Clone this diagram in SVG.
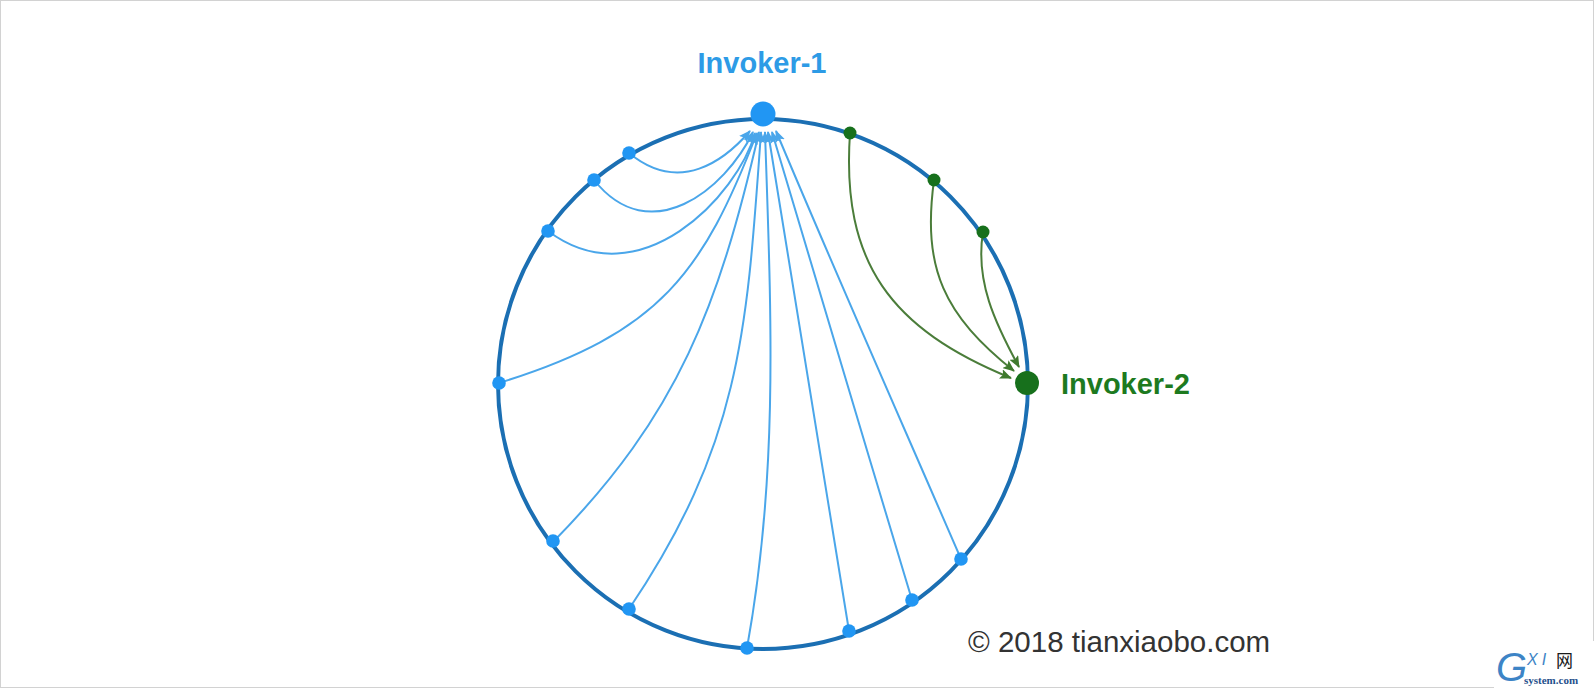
<svg xmlns="http://www.w3.org/2000/svg" width="1594" height="688" viewBox="0 0 1594 688">
  <style>
    .ring { fill: none; stroke: #1b6fb3; stroke-width: 4; }
    .blink { fill: none; stroke: #4aa6ea; stroke-width: 2; marker-end: url(#arrowBlue); }
    .glink { fill: none; stroke: #4b7d3a; stroke-width: 2; marker-end: url(#arrowGreen); }
    .bnode { fill: #2196f3; }
    .gnode { fill: #17701c; }
    .label { font-family: "Liberation Sans", Arial, sans-serif; font-weight: bold; font-size: 29px; }
  </style>
  <defs>
    <marker id="arrowBlue" markerUnits="userSpaceOnUse" markerWidth="12" markerHeight="10" viewBox="0 0 12 10" refX="11" refY="5" orient="auto">
      <path d="M0,0 L12,5 L0,10 L2.5,5 z" fill="#4aa6ea"/>
    </marker>
    <marker id="arrowGreen" markerUnits="userSpaceOnUse" markerWidth="12" markerHeight="10" viewBox="0 0 12 10" refX="11" refY="5" orient="auto">
      <path d="M0,0 L12,5 L0,10 L2.5,5 z" fill="#3f7a2e"/>
    </marker>
  </defs>
  <rect x="0" y="0" width="1594" height="688" fill="#ffffff"/>
  <rect x="0.5" y="0.5" width="1593" height="687" fill="none" stroke="#d2d2d2" stroke-width="1"/>

  <g id="ring">
    <circle class="ring" cx="763" cy="384" r="265"/>
  </g>

  <g id="connectors">
    <path class="blink" d="M629,153 C680,195 725,160 750,131"/>
    <path class="blink" d="M594,180 C650,250 725,190 753,132"/>
    <path class="blink" d="M548,231 C640,300 738,195 755,133"/>
    <path class="blink" d="M499,383 C661,333 703,272 757,133"/>
    <path class="blink" d="M553,542 C679,414 719,305 759,132"/>
    <path class="blink" d="M629,609 C741,443 747,331 761,132"/>
    <path class="blink" d="M747,648 C779,471 771,311 765,132"/>
    <path class="blink" d="M849,631 C822,464 795,298 768,132"/>
    <path class="blink" d="M912,600 C865,444 818,287 772,132"/>
    <path class="blink" d="M961,559 C899,416 836,274 776,131"/>
    <path class="glink" d="M850,133 C841,263 891,329 1011,378"/>
    <path class="glink" d="M934,180 C922,269 944,315 1014,371"/>
    <path class="glink" d="M983,232 C975,281 995,323 1019,367"/>
  </g>

  <g id="invoker-1">
    <circle class="bnode" cx="763" cy="114" r="12.5"/>
    <text class="label" x="762" y="73" text-anchor="middle" fill="#2d9be6">Invoker-1</text>
  </g>
  <g id="invoker-2">
    <circle class="gnode" cx="1027" cy="383" r="12"/>
    <text class="label" x="1061" y="394" fill="#1d7a1f">Invoker-2</text>
  </g>

  <g id="provider-b1"><circle class="bnode" cx="629" cy="153" r="6.8"/></g>
  <g id="provider-b2"><circle class="bnode" cx="594" cy="180" r="6.8"/></g>
  <g id="provider-b3"><circle class="bnode" cx="548" cy="231" r="6.8"/></g>
  <g id="provider-b4"><circle class="bnode" cx="499" cy="383" r="6.8"/></g>
  <g id="provider-b5"><circle class="bnode" cx="553" cy="541" r="6.8"/></g>
  <g id="provider-b6"><circle class="bnode" cx="629" cy="609" r="6.8"/></g>
  <g id="provider-b7"><circle class="bnode" cx="747" cy="648" r="6.8"/></g>
  <g id="provider-b8"><circle class="bnode" cx="849" cy="631" r="6.8"/></g>
  <g id="provider-b9"><circle class="bnode" cx="912" cy="600" r="6.8"/></g>
  <g id="provider-b10"><circle class="bnode" cx="961" cy="559" r="6.8"/></g>

  <g id="provider-g1"><circle class="gnode" cx="850" cy="133" r="6.5"/></g>
  <g id="provider-g2"><circle class="gnode" cx="934" cy="180" r="6.5"/></g>
  <g id="provider-g3"><circle class="gnode" cx="983" cy="232" r="6.5"/></g>

  <g id="copyright">
    <text x="968" y="652" font-family="'Liberation Sans', Arial, sans-serif" font-size="29.5" fill="#333333">© 2018 tianxiaobo.com</text>
  </g>

  <g id="watermark">
    <rect x="1494" y="641" width="100" height="47" fill="#ffffff"/>
    <text x="1496" y="681" font-family="'Liberation Sans', Arial, sans-serif" font-style="italic" font-size="40" fill="#3d84c6">G</text>
    <text x="1527" y="665" font-family="'Liberation Sans', Arial, sans-serif" font-style="italic" font-size="16" letter-spacing="4" fill="#3d84c6">XI</text>
    <text x="1556" y="667" font-family="'Noto Sans CJK SC', sans-serif" font-size="17" fill="#1a1a1a">网</text>
    <text x="1524" y="684" font-family="'Liberation Serif', 'Times New Roman', serif" font-weight="bold" font-size="11" fill="#1f4f8c">system.com</text>
  </g>
</svg>
